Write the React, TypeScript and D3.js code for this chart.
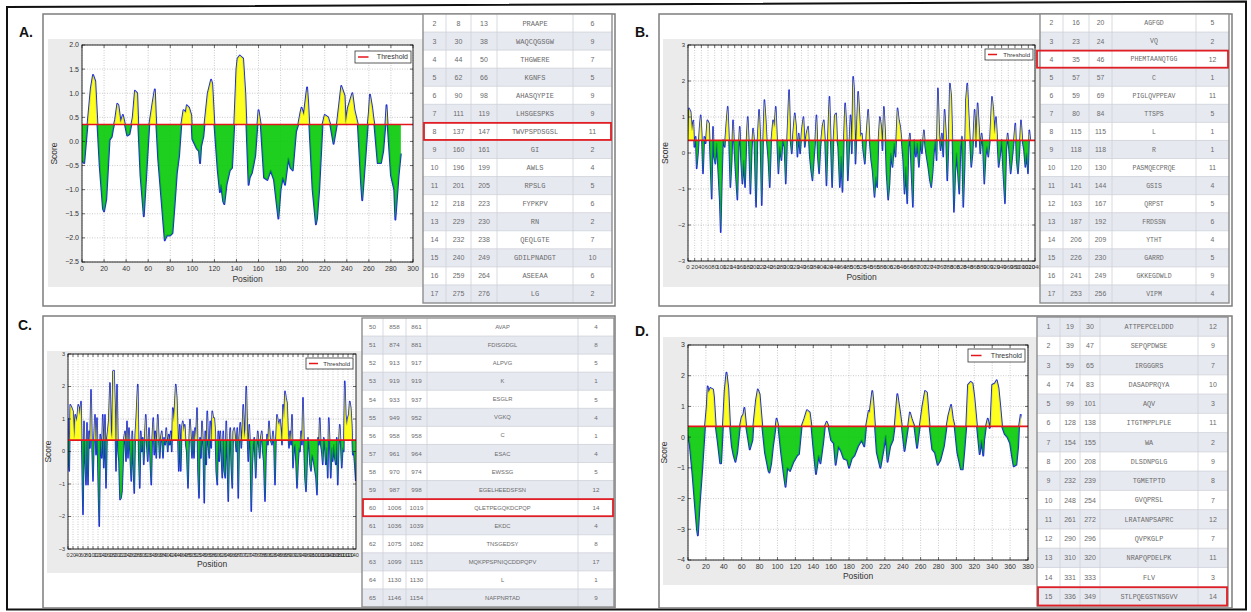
import React from "react";
import * as d3 from "d3";

type Pt = [number, number];
type Row = [number, number, number, string, number];

const THRESHOLD = 0.35;

// ---------- Panel A profile (position, score) ----------
const scoreA: Pt[] = [
  [0,-0.40],[2,-0.45],[5,0.35],[8,1.1],[10,1.38],[12,1.25],[14,0.35],[16,-0.5],[19,-1.4],[20,-1.45],[22,-1.2],[25,0.03],[27,0.1],[28,0.24],[30,0.45],[32,0.78],[33,0.75],[35,0.4],[37,0.55],[38,0.45],[41,0.12],[43,0.15],[46,0.5],[48,1.05],[50,1.0],[51,0.35],[53,-0.7],[56,-1.55],[58,-0.8],[61,0.35],[64,0.8],[66,1.08],[67,0.5],[69,-0.35],[72,-1.2],[75,-2.05],[77,-1.95],[80,-1.95],[82,-1.9],[84,-1.3],[86,-0.65],[88,-0.3],[90,0.35],[92,0.65],[94,0.6],[95,0.75],[97,0.7],[99,0.55],[100,0.05],[102,-0.05],[104,-0.15],[106,-0.2],[107,-0.45],[108,-0.1],[110,0.1],[111,0.35],[114,1.0],[117,1.28],[118,1.2],[120,0.35],[123,-0.6],[125,-1.05],[126,-0.9],[128,-1.25],[129,-1.3],[131,-0.9],[134,-0.6],[136,-0.55],[138,0.35],[140,1.5],[141,1.72],[143,1.78],[146,1.72],[148,1.0],[149,0.35],[151,-0.9],[152,-0.75],[154,-0.65],[157,-0.3],[159,0.35],[160,0.65],[162,0.35],[165,-0.75],[168,-0.8],[171,-0.6],[174,-0.8],[176,-1.2],[178,-1.6],[180,-1.0],[182,-0.75],[184,-0.9],[187,-0.35],[189,-0.55],[191,-0.6],[194,0.2],[196,0.35],[198,0.6],[199,0.7],[201,0.55],[204,1.12],[205,0.8],[206,0.35],[209,-1.0],[212,-1.72],[213,-1.6],[215,-1.0],[218,0.35],[220,0.55],[223,0.5],[225,0.35],[228,-0.05],[231,0.35],[232,0.55],[235,1.15],[238,0.95],[239,0.38],[241,0.7],[245,1.0],[247,0.65],[250,0.35],[253,-0.9],[254,-1.22],[257,-0.3],[259,0.35],[260,0.6],[261,0.97],[263,0.7],[264,0.5],[265,0.35],[268,-0.45],[271,-0.45],[273,-0.2],[275,0.35],[276,0.75],[277,0.35],[280,-0.7],[283,-1.0],[284,-1.62],[287,-0.7],[289,-0.25]
];

// ---------- Panel B profile ----------
const scoreB: Pt[] = [
  [0,0.36],[3,1.24],[8,1.14],[12,0.63],[16,0.9],[19,0.17],[23,0.45],[26,-0.43],[30,-0.01],[35,0.73],[38,1.05],[41,0.54],[45,-0.57],[49,0.45],[53,0.27],[58,0.91],[63,0.82],[67,-0.2],[71,-1.27],[75,0.73],[78,-0.1],[82,-0.3],[86,0.27],[91,-0.57],[95,-1.3],[98,-2.2],[101,-0.95],[105,0.36],[110,0.17],[115,0.82],[119,1.28],[123,0.36],[127,-0.95],[131,-0.2],[135,0.91],[139,0.08],[143,-0.57],[148,-1.3],[152,0.17],[155,0.73],[159,-0.2],[163,-0.85],[167,-0.2],[171,-0.95],[175,0.27],[179,1.0],[183,0.17],[187,-1.13],[191,0.08],[195,0.68],[199,0.27],[204,-1.5],[208,0.27],[213,1.2],[217,0.36],[221,-1.45],[225,0.27],[229,1.47],[233,0.91],[236,0.36],[241,-0.2],[245,-0.95],[249,0.27],[255,0.91],[259,0.73],[263,1.28],[267,0.36],[271,-0.57],[275,0.17],[280,-0.2],[284,0.36],[289,0.17],[293,-0.85],[297,0.36],[303,1.75],[307,0.36],[311,-0.01],[315,0.54],[320,1.1],[324,0.73],[328,-0.1],[332,0.54],[336,-0.01],[341,0.63],[346,1.0],[350,0.17],[355,0.54],[360,0.73],[365,-0.1],[369,-0.48],[373,-0.76],[377,-0.2],[381,0.27],[385,1.05],[389,-0.1],[393,-0.57],[397,0.17],[403,0.73],[407,0.91],[411,0.27],[415,-0.9],[419,0.36],[424,1.56],[428,0.27],[432,-0.95],[436,0.36],[440,1.05],[444,1.1],[447,0.36],[450,0.17],[455,-0.95],[459,-0.1],[463,-1.08],[467,0.36],[471,1.38],[475,0.73],[479,-0.76],[483,0.08],[487,1.05],[491,-0.01],[495,2.12],[498,1.75],[502,-0.3],[506,0.73],[510,1.7],[513,1.2],[517,0.45],[521,0.54],[525,0.08],[530,-0.3],[535,0.54],[540,1.2],[544,0.36],[549,-0.2],[553,-0.48],[559,-1.22],[563,-0.67],[567,-0.95],[571,0.36],[575,1.0],[579,0.73],[583,0.08],[587,1.28],[591,0.54],[595,-0.57],[600,-1.3],[604,-0.85],[608,-0.01],[613,-0.39],[618,0.27],[622,-0.1],[628,1.24],[632,0.91],[636,0.73],[640,0.36],[645,-0.2],[649,-1.13],[653,-0.39],[657,-1.4],[661,0.17],[665,0.54],[669,-0.39],[674,-1.5],[678,0.36],[683,-0.1],[687,0.27],[692,-0.39],[697,0.36],[701,-0.01],[707,0.63],[711,0.17],[715,-0.1],[720,-0.39],[725,-0.76],[729,-0.95],[733,-0.57],[737,-0.01],[741,0.36],[745,-0.2],[749,1.8],[753,0.54],[757,0.08],[761,0.54],[765,-0.1],[769,1.2],[773,0.54],[777,-0.76],[781,0.27],[785,1.93],[789,1.56],[793,0.17],[797,-1.64],[801,-0.57],[805,-0.01],[809,-0.57],[813,-1.13],[817,0.17],[821,0.45],[825,-1.5],[829,-0.39],[833,1.47],[837,1.93],[841,1.1],[845,0.36],[849,-0.39],[853,-0.01],[859,1.2],[863,0.17],[868,1.38],[872,0.73],[876,-0.01],[880,0.54],[884,0.17],[888,-0.85],[892,-0.1],[896,0.17],[900,-0.1],[905,0.36],[911,1.56],[915,1.2],[919,0.54],[923,1.0],[927,0.36],[931,-0.39],[935,-0.1],[940,0.36],[945,-0.57],[950,-1.4],[954,0.08],[958,0.54],[963,-0.01],[967,-0.57],[971,-0.2],[976,0.27],[981,0.82],[985,-0.2],[989,-0.57],[993,-0.01],[998,0.91],[1002,0.36],[1007,0.08],[1011,-0.39],[1015,-0.01],[1019,-0.57],[1023,0.63],[1026,0.36]
];

// ---------- Panel C profile ----------
const scoreC: Pt[] = [
  [0,1.03],[3,-0.4],[5,-0.6],[9,1.44],[15,1.34],[20,1.24],[25,0.42],[29,1.13],[33,0.93],[37,1.08],[41,1.44],[44,1.34],[47,1.13],[52,1.54],[56,-0.2],[60,-1.94],[64,0.93],[68,-0.2],[72,-1.02],[76,0.88],[80,-1.02],[84,0.62],[88,0.11],[92,1.9],[96,0.21],[100,-0.91],[104,0.42],[108,1.13],[112,-0.1],[116,1.03],[120,-0.6],[125,-2.3],[129,0.52],[135,-0.2],[139,1.13],[143,-0.5],[148,1.13],[152,-1.12],[156,0.42],[163,0.93],[168,2.11],[172,0.62],[176,0.42],[180,2.47],[184,2.49],[188,1.44],[192,-0.6],[196,2.06],[200,0.0],[204,-0.3],[208,-1.48],[212,-1.43],[216,-1.23],[220,-0.4],[224,0.42],[228,0.62],[232,-0.3],[236,0.93],[240,-0.2],[244,0.72],[249,-0.2],[253,-0.91],[257,0.62],[261,-0.4],[265,-1.28],[269,0.52],[273,1.03],[279,2.06],[283,-0.1],[287,-1.12],[291,0.62],[295,0.0],[299,0.42],[303,-0.4],[307,0.42],[311,1.13],[315,0.21],[319,-0.3],[324,0.72],[328,-0.1],[333,-1.02],[337,0.42],[341,1.03],[345,-0.1],[349,0.62],[353,-0.2],[359,1.13],[363,0.42],[367,-0.2],[371,0.42],[375,0.62],[380,-0.2],[384,0.42],[389,0.21],[393,0.72],[399,0.0],[403,0.52],[407,0.21],[411,0.62],[415,0.0],[419,1.34],[423,0.93],[427,1.44],[431,2.06],[435,1.65],[439,0.62],[443,-0.6],[447,0.82],[451,-0.6],[455,0.72],[459,0.93],[463,0.62],[467,0.82],[471,0.21],[475,0.0],[480,-1.12],[484,0.21],[488,0.98],[492,0.42],[496,-0.2],[500,0.62],[504,-0.2],[508,0.72],[512,0.42],[516,1.34],[520,-0.6],[524,-1.43],[528,0.42],[532,-0.2],[536,0.93],[541,0.11],[545,-1.58],[549,0.62],[553,-0.4],[557,1.24],[561,0.21],[565,-0.2],[569,0.93],[573,0.11],[577,1.24],[581,1.03],[585,1.03],[589,0.62],[593,-0.6],[597,-1.02],[601,0.62],[605,-0.3],[609,0.62],[613,0.0],[617,-0.81],[621,0.62],[625,-0.6],[629,-0.81],[633,0.93],[637,-0.2],[641,-1.53],[645,0.11],[649,0.72],[653,-0.4],[657,-1.12],[661,0.62],[665,0.72],[669,0.42],[673,0.0],[677,0.72],[681,-1.43],[685,0.42],[689,0.88],[693,0.11],[697,0.62],[701,1.44],[705,0.42],[709,0.67],[713,2.0],[717,0.62],[721,-0.3],[725,0.82],[729,0.11],[733,-1.84],[737,-0.4],[741,0.21],[745,0.42],[751,-0.81],[755,0.11],[759,0.62],[763,0.21],[767,-0.2],[771,0.42],[775,0.62],[779,0.0],[783,-0.3],[788,-1.53],[792,-0.1],[796,0.52],[800,0.21],[804,0.93],[808,0.42],[812,0.31],[816,0.21],[820,0.62],[824,0.21],[828,-1.02],[832,0.42],[836,1.13],[840,0.93],[844,0.82],[848,0.98],[852,0.62],[856,0.21],[860,1.44],[864,1.03],[868,1.85],[872,1.65],[876,1.49],[880,0.62],[884,0.11],[888,0.62],[892,0.21],[896,1.13],[900,-0.5],[904,0.11],[908,0.21],[912,-0.3],[916,-1.12],[920,-0.4],[924,0.11],[928,0.0],[932,0.62],[936,0.21],[940,1.65],[944,0.21],[948,-0.81],[952,-1.23],[956,-0.4],[960,0.42],[964,0.21],[968,-0.4],[972,-0.6],[976,-0.1],[980,-0.2],[984,-0.4],[988,-0.6],[992,-0.81],[996,-1.33],[1000,0.42],[1004,0.21],[1007,1.03],[1011,0.21],[1015,0.0],[1019,-0.4],[1023,0.42],[1027,0.21],[1031,-0.4],[1035,0.11],[1039,-0.81],[1043,1.03],[1047,0.21],[1051,-0.81],[1055,0.11],[1059,-0.3],[1063,0.21],[1067,-0.2],[1071,-0.4],[1075,0.42],[1079,-1.02],[1083,0.21],[1087,0.82],[1091,0.21],[1095,-0.5],[1099,0.11],[1103,0.0],[1107,2.16],[1111,1.13],[1115,0.82],[1119,1.03],[1123,1.13],[1127,1.54],[1131,1.34],[1135,0.82],[1139,-0.1],[1143,0.0],[1147,-0.4],[1151,-0.91]
];

// ---------- Panel D profile ----------
const scoreD: Pt[] = [
  [0,0.07],[2,-0.26],[5,-1.2],[8,-2.3],[10,-3.0],[11,-3.2],[13,-2.2],[16,-1.0],[19,0.35],[21,1.0],[22,1.65],[23,1.45],[25,1.6],[28,1.55],[29,1.3],[31,0.35],[33,-0.1],[36,-0.85],[37,-0.85],[39,0.35],[41,1.5],[43,2.1],[45,1.6],[47,0.35],[49,-0.3],[51,-0.6],[53,-0.8],[55,-0.5],[58,0.35],[60,0.65],[62,0.75],[63,0.95],[64,0.65],[65,0.35],[69,-0.4],[72,-0.1],[73,0.35],[76,1.2],[78,1.55],[80,1.4],[83,0.35],[86,-0.5],[90,-1.1],[91,-1.15],[93,-0.85],[95,-0.3],[98,0.35],[99,0.6],[101,0.35],[104,-0.5],[107,-1.2],[109,-1.62],[111,-1.0],[114,-1.1],[118,-0.8],[122,-0.6],[124,-0.55],[127,0.35],[130,0.6],[133,0.88],[136,0.8],[138,0.35],[140,-0.3],[143,-1.2],[146,-0.6],[148,-0.85],[151,-0.2],[153,0.35],[155,0.5],[157,0.35],[160,-0.1],[163,-0.2],[165,-0.9],[168,-0.3],[171,-0.45],[174,-0.7],[178,-0.75],[180,-1.0],[183,-0.7],[186,-0.6],[190,-0.3],[194,-0.1],[197,-0.3],[199,0.35],[202,0.85],[203,0.8],[206,1.5],[207,1.2],[209,0.35],[211,-0.5],[215,-1.0],[218,-0.5],[221,0.05],[223,-0.8],[226,-0.3],[229,-0.1],[231,0.35],[234,1.4],[237,0.8],[239,0.35],[242,-0.45],[246,0.35],[248,0.8],[250,0.6],[253,0.35],[256,-0.35],[259,0.35],[262,1.0],[265,1.5],[267,1.45],[270,0.35],[273,-0.4],[276,-0.5],[279,-0.9],[282,-0.75],[286,-0.3],[289,0.35],[291,0.7],[294,1.05],[296,0.6],[298,0.35],[301,-0.5],[305,-1.05],[307,-1.05],[309,-0.4],[311,0.35],[313,1.7],[316,1.8],[318,1.75],[320,1.3],[323,0.35],[326,-0.55],[328,-0.1],[330,-0.6],[331,-0.1],[333,0.35],[335,0.6],[337,0.3],[338,0.35],[340,1.7],[343,1.75],[345,1.85],[347,1.6],[349,1.0],[351,0.35],[354,0.1],[357,0.0],[360,-0.2],[362,-0.6],[364,-0.95],[367,-0.9],[369,-0.3],[370,0.35],[372,0.75]
];

// ---------- Axis ticks ----------
const xTicksA = d3.range(0, 301, 20);
const xTicksB = d3.range(0, 1041, 20);
const xTicksC = d3.range(0, 1152, 20);
const xTicksD = d3.range(0, 381, 20);
const yTicksA = [2.0, 1.5, 1.0, 0.5, 0.0, -0.5, -1.0, -1.5, -2.0, -2.5];
const yTicksB = [3, 2, 1, 0, -1, -2, -3];
const yTicksC = [3, 2, 1, 0, -1, -2, -3];
const yTicksD = [3, 2, 1, 0, -1, -2, -3, -4];

// ---------- Epitope tables: [No, Start, End, Peptide, Length] ----------
const tableA: Row[] = [
  [2,8,13,"PRAAPE",6],[3,30,38,"WAQCQGSGW",9],[4,44,50,"THGWERE",7],[5,62,66,"KGNFS",5],
  [6,90,98,"AHASQYPIE",9],[7,111,119,"LHSGESPKS",9],[8,137,147,"TWVPSPDSGSL",11],[9,160,161,"GI",2],
  [10,196,199,"AWLS",4],[11,201,205,"RPSLG",5],[12,218,223,"FYPKPV",6],[13,229,230,"RN",2],
  [14,232,238,"QEQLGTE",7],[15,240,249,"GDILPNADGT",10],[16,259,264,"ASEEAA",6],[17,275,276,"LG",2]
];
const tableB: Row[] = [
  [2,16,20,"AGFGD",5],[3,23,24,"VQ",2],[4,35,46,"PHEMTAANQTGG",12],[5,57,57,"C",1],
  [6,59,69,"PIGLQVPPEAV",11],[7,80,84,"TTSPS",5],[8,115,115,"L",1],[9,118,118,"R",1],
  [10,120,130,"PASMQECPRQE",11],[11,141,144,"GSIS",4],[12,163,167,"QRPST",5],[13,187,192,"FRDSSN",6],
  [14,206,209,"YTHT",4],[15,226,230,"GARRD",5],[16,241,249,"GKKEGDWLD",9],[17,253,256,"VIPM",4]
];
const tableC: Row[] = [
  [50,858,861,"AVAP",4],[51,874,881,"FDISGDGL",8],[52,913,917,"ALPVG",5],[53,919,919,"K",1],
  [54,933,937,"ESGLR",5],[55,949,952,"VGKQ",4],[56,958,958,"C",1],[57,961,964,"ESAC",4],
  [58,970,974,"EWSSG",5],[59,987,998,"EGELHEEDSFSN",12],[60,1006,1019,"QLETPEGQKDCPQP",14],[61,1036,1039,"EKDC",4],
  [62,1075,1082,"TNSGEDSY",8],[63,1099,1115,"MQKPPSPNIQCDDPQPV",17],[64,1130,1130,"L",1],[65,1146,1154,"NAFPNRTAD",9]
];
const tableD: Row[] = [
  [1,19,30,"ATTPEPCELDDD",12],[2,39,47,"SEPQPDWSE",9],[3,59,65,"IRGGGRS",7],[4,74,83,"DASADPRQYA",10],
  [5,99,101,"AQV",3],[6,128,138,"ITGTMPPLPLE",11],[7,154,155,"WA",2],[8,200,208,"DLSDNPGLG",9],
  [9,232,239,"TGMETPTD",8],[10,248,254,"GVQPRSL",7],[11,261,272,"LRATANPSAPRC",12],[12,290,296,"QVPKGLP",7],
  [13,310,320,"NRAPQPDELPK",11],[14,331,333,"FLV",3],[15,336,349,"STLPQEGSTNSGVV",14]
];

const SANS = "'Liberation Sans', Arial, sans-serif";
const MONO = "'Liberation Mono', 'DejaVu Sans Mono', monospace";

interface Box { x0: number; y0: number; x1: number; y1: number }
interface ChartCfg {
  id: string;
  data: Pt[];
  xMax: number;
  xTicks: number[];
  yMin: number;
  yMax: number;
  yTicks: number[];
  yFmt: (v: number) => string;
  plot: Box;
  bg: Box;
  legend: { x: number; y: number; w: number; h: number; fs: number };
  tickFs: number;
  lineW: number;
  scoreX: number;
  posY: number;
}

function Chart({ c }: { c: ChartCfg }) {
  const p = c.plot;
  const x = d3.scaleLinear().domain([0, c.xMax]).range([p.x0, p.x1]);
  const y = d3.scaleLinear().domain([c.yMin, c.yMax]).range([p.y1, p.y0]);
  const ty = y(THRESHOLD);
  const area = d3.area<Pt>().x((d) => x(d[0])).y0(ty).y1((d) => y(d[1]));
  const line = d3.line<Pt>().x((d) => x(d[0])).y((d) => y(d[1]));
  const pw = p.x1 - p.x0;
  const ph = p.y1 - p.y0;
  const L = c.legend;
  return (
    <g>
      <rect x={c.bg.x0} y={c.bg.y0} width={c.bg.x1 - c.bg.x0} height={c.bg.y1 - c.bg.y0} fill="#ebebeb" />
      <rect x={p.x0} y={p.y0} width={pw} height={ph} fill="#ffffff" />
      <defs>
        <clipPath id={c.id + "-up"}><rect x={p.x0} y={p.y0} width={pw} height={ty - p.y0} /></clipPath>
        <clipPath id={c.id + "-dn"}><rect x={p.x0} y={ty} width={pw} height={p.y1 - ty} /></clipPath>
        <clipPath id={c.id + "-pl"}><rect x={p.x0} y={p.y0} width={pw} height={ph} /></clipPath>
      </defs>
      {/* grid */}
      <g stroke="#a8a8a8" strokeWidth={0.6} strokeDasharray="1,1.5">
        {c.xTicks.map((t) => (
          <line key={"gx" + t} x1={x(t)} x2={x(t)} y1={p.y0} y2={p.y1} />
        ))}
        {c.yTicks.map((t) => (
          <line key={"gy" + t} x1={p.x0} x2={p.x1} y1={y(t)} y2={y(t)} />
        ))}
      </g>
      <g clipPath={`url(#${c.id}-pl)`}>
        <path d={line(c.data) || ""} fill="none" stroke="#1d2ed8" strokeWidth={c.lineW} strokeLinejoin="round" />
        <path d={area(c.data) || ""} fill="#ffff00" fillOpacity={0.88} clipPath={`url(#${c.id}-up)`} />
        <path d={area(c.data) || ""} fill="#00c800" fillOpacity={0.88} clipPath={`url(#${c.id}-dn)`} />
        <line x1={p.x0} x2={p.x1} y1={ty} y2={ty} stroke="#e3161b" strokeWidth={1.6} />
      </g>
      <rect x={p.x0} y={p.y0} width={pw} height={ph} fill="none" stroke="#111" strokeWidth={0.9} />
      {/* ticks */}
      <g stroke="#111" strokeWidth={0.6}>
        {c.xTicks.map((t) => (
          <g key={"tx" + t}>
            <line x1={x(t)} x2={x(t)} y1={p.y1} y2={p.y1 - 3} />
            <line x1={x(t)} x2={x(t)} y1={p.y0} y2={p.y0 + 3} />
          </g>
        ))}
        {c.yTicks.map((t) => (
          <g key={"ty" + t}>
            <line x1={p.x0} x2={p.x0 + 3} y1={y(t)} y2={y(t)} />
            <line x1={p.x1} x2={p.x1 - 3} y1={y(t)} y2={y(t)} />
          </g>
        ))}
      </g>
      <g fontFamily={SANS} fontSize={c.tickFs} fill="#333">
        {c.xTicks.map((t) => (
          <text key={"lx" + t} x={x(t)} y={p.y1 + c.tickFs + 2} textAnchor="middle">{t}</text>
        ))}
        {c.yTicks.map((t) => (
          <text key={"ly" + t} x={p.x0 - 3} y={y(t) + c.tickFs * 0.35} textAnchor="end">{c.yFmt(t)}</text>
        ))}
      </g>
      <text x={(p.x0 + p.x1) / 2} y={c.posY} textAnchor="middle" fontFamily={SANS} fontSize={8.5} fill="#333">Position</text>
      <text transform={`translate(${c.scoreX},${(p.y0 + p.y1) / 2}) rotate(-90)`} textAnchor="middle" fontFamily={SANS} fontSize={8.5} fill="#333">Score</text>
      {/* legend */}
      <rect x={L.x} y={L.y} width={L.w} height={L.h} fill="#fff" stroke="#333" strokeWidth={0.8} />
      <line x1={L.x + 3} x2={L.x + 3 + L.fs * 1.5} y1={L.y + L.h / 2} y2={L.y + L.h / 2} stroke="#e3161b" strokeWidth={1.5} />
      <text x={L.x + L.w - 3} y={L.y + L.h / 2 + L.fs * 0.35} textAnchor="end" fontFamily={SANS} fontSize={L.fs} fill="#333">Threshold</text>
    </g>
  );
}

interface TableCfg {
  rows: Row[];
  cols: number[];
  y0: number;
  y1: number;
  hi: number;
  hiX0?: number;
  seqFont: string;
  seqFs: number;
  fs: number;
}

function Table({ t }: { t: TableCfg }) {
  const n = t.rows.length;
  const rowY = d3.scaleLinear().domain([0, n]).range([t.y0, t.y1]);
  const rh = (t.y1 - t.y0) / n;
  const x0 = t.cols[0];
  const x1 = t.cols[t.cols.length - 1];
  return (
    <g>
      {t.rows.map((r, i) => (
        <rect key={"bg" + i} x={x0} y={rowY(i)} width={x1 - x0} height={rh} fill={r[0] % 2 === 1 ? "#e7e9f1" : "#ffffff"} />
      ))}
      <g stroke="#cfd1d8" strokeWidth={0.8}>
        {t.rows.map((r, i) => (i > 0 ? <line key={"h" + i} x1={x0} x2={x1} y1={rowY(i)} y2={rowY(i)} /> : null))}
        {t.cols.slice(1, -1).map((cx, i) => (
          <line key={"v" + i} x1={cx} x2={cx} y1={t.y0} y2={t.y1} />
        ))}
      </g>
      {t.rows.map((r, i) => {
        const cy = rowY(i) + rh / 2;
        return (
          <g key={"r" + i} fill="#6b6b6b">
            {[0, 1, 2, 3, 4].map((k) => (
              <text
                key={k}
                x={(t.cols[k] + t.cols[k + 1]) / 2}
                y={cy + (k === 3 ? t.seqFs : t.fs) * 0.36}
                textAnchor="middle"
                fontFamily={k === 3 ? t.seqFont : SANS}
                fontSize={k === 3 ? t.seqFs : t.fs}
              >
                {String(r[k])}
              </text>
            ))}
          </g>
        );
      })}
      <rect x={x0} y={t.y0} width={x1 - x0} height={t.y1 - t.y0} fill="none" stroke="#8d8d8d" strokeWidth={1.4} />
      <rect
        x={(t.hiX0 ?? x0) + 1}
        y={rowY(t.hi) + 0.5}
        width={x1 - (t.hiX0 ?? x0) - 2}
        height={rh - 1}
        fill="none"
        stroke="#e01e25"
        strokeWidth={1.8}
      />
    </g>
  );
}

const fmt1 = d3.format(".1f");
const fmt0 = d3.format("d");

const charts: ChartCfg[] = [
  {
    id: "A", data: scoreA, xMax: 300, xTicks: xTicksA, yMin: -2.5, yMax: 2.0, yTicks: yTicksA, yFmt: fmt1,
    plot: { x0: 82, y0: 45, x1: 413, y1: 262 }, bg: { x0: 48, y0: 39, x1: 423, y1: 287 },
    legend: { x: 355, y: 51, w: 56, h: 12, fs: 7 }, tickFs: 7, lineW: 1.9, scoreX: 57, posY: 282,
  },
  {
    id: "B", data: scoreB, xMax: 1040, xTicks: xTicksB, yMin: -3, yMax: 3, yTicks: yTicksB, yFmt: fmt0,
    plot: { x0: 688, y0: 45, x1: 1035, y1: 261 }, bg: { x0: 663, y0: 39, x1: 1040, y1: 287 },
    legend: { x: 985, y: 49, w: 48, h: 11, fs: 6 }, tickFs: 6, lineW: 1.6, scoreX: 668, posY: 280,
  },
  {
    id: "C", data: scoreC, xMax: 1152, xTicks: xTicksC, yMin: -3, yMax: 3, yTicks: yTicksC, yFmt: fmt0,
    plot: { x0: 68, y0: 354, x1: 356, y1: 549 }, bg: { x0: 47, y0: 351, x1: 362, y1: 573 },
    legend: { x: 306, y: 358, w: 47, h: 11, fs: 6 }, tickFs: 5.5, lineW: 1.6, scoreX: 51, posY: 567,
  },
  {
    id: "D", data: scoreD, xMax: 380, xTicks: xTicksD, yMin: -4, yMax: 3, yTicks: yTicksD, yFmt: fmt0,
    plot: { x0: 688, y0: 345, x1: 1028, y1: 560 }, bg: { x0: 663, y0: 337, x1: 1037, y1: 585 },
    legend: { x: 968, y: 349, w: 57, h: 13, fs: 7 }, tickFs: 7, lineW: 1.9, scoreX: 667, posY: 579,
  },
];

const tables: TableCfg[] = [
  { rows: tableA, cols: [423, 446, 471, 497, 573, 612], y0: 14, y1: 303, hi: 6, seqFont: MONO, seqFs: 7, fs: 7 },
  { rows: tableB, cols: [1040, 1063, 1089, 1112, 1196, 1229], y0: 14, y1: 303, hi: 2, hiX0: 1036, seqFont: MONO, seqFs: 6.5, fs: 6.8 },
  { rows: tableC, cols: [362, 383, 406, 427, 578, 614], y0: 318, y1: 607, hi: 10, seqFont: SANS, seqFs: 5.8, fs: 6.2 },
  { rows: tableD, cols: [1037, 1060, 1080, 1100, 1198, 1228], y0: 317, y1: 606, hi: 14, seqFont: MONO, seqFs: 6.8, fs: 7 },
];

const panelBoxes: Box[] = [
  { x0: 43, y0: 14, x1: 615, y1: 306 },
  { x0: 659, y0: 14, x1: 1232, y1: 306 },
  { x0: 43, y0: 316, x1: 615, y1: 608 },
  { x0: 659, y0: 316, x1: 1232, y1: 608 },
];

const panelLabels = [
  { t: "A.", x: 19, y: 37 },
  { t: "B.", x: 635, y: 37 },
  { t: "C.", x: 18, y: 330 },
  { t: "D.", x: 635, y: 336 },
];

export default function App() {
  return (
    <svg width={1251} height={612} viewBox="0 0 1251 612" style={{ display: "block", position: "absolute", left: 0, top: 0 }}>
      <rect x={0} y={0} width={1251} height={612} fill="#ffffff" />
      <path d="M7,7 L1246,1.5 L1246,609.5 L7,609.5 Z" fill="none" stroke="#111" strokeWidth={2} />
      {panelBoxes.map((b, i) => (
        <rect key={"pb" + i} x={b.x0} y={b.y0} width={b.x1 - b.x0} height={b.y1 - b.y0} fill="#fff" stroke="#7d7d7d" strokeWidth={1.5} />
      ))}
      {charts.map((c) => (
        <Chart key={c.id} c={c} />
      ))}
      {tables.map((t, i) => (
        <Table key={"t" + i} t={t} />
      ))}
      {panelLabels.map((l) => (
        <text key={l.t} x={l.x} y={l.y} fontFamily={SANS} fontWeight="bold" fontSize={14} fill="#111">{l.t}</text>
      ))}
    </svg>
  );
}
